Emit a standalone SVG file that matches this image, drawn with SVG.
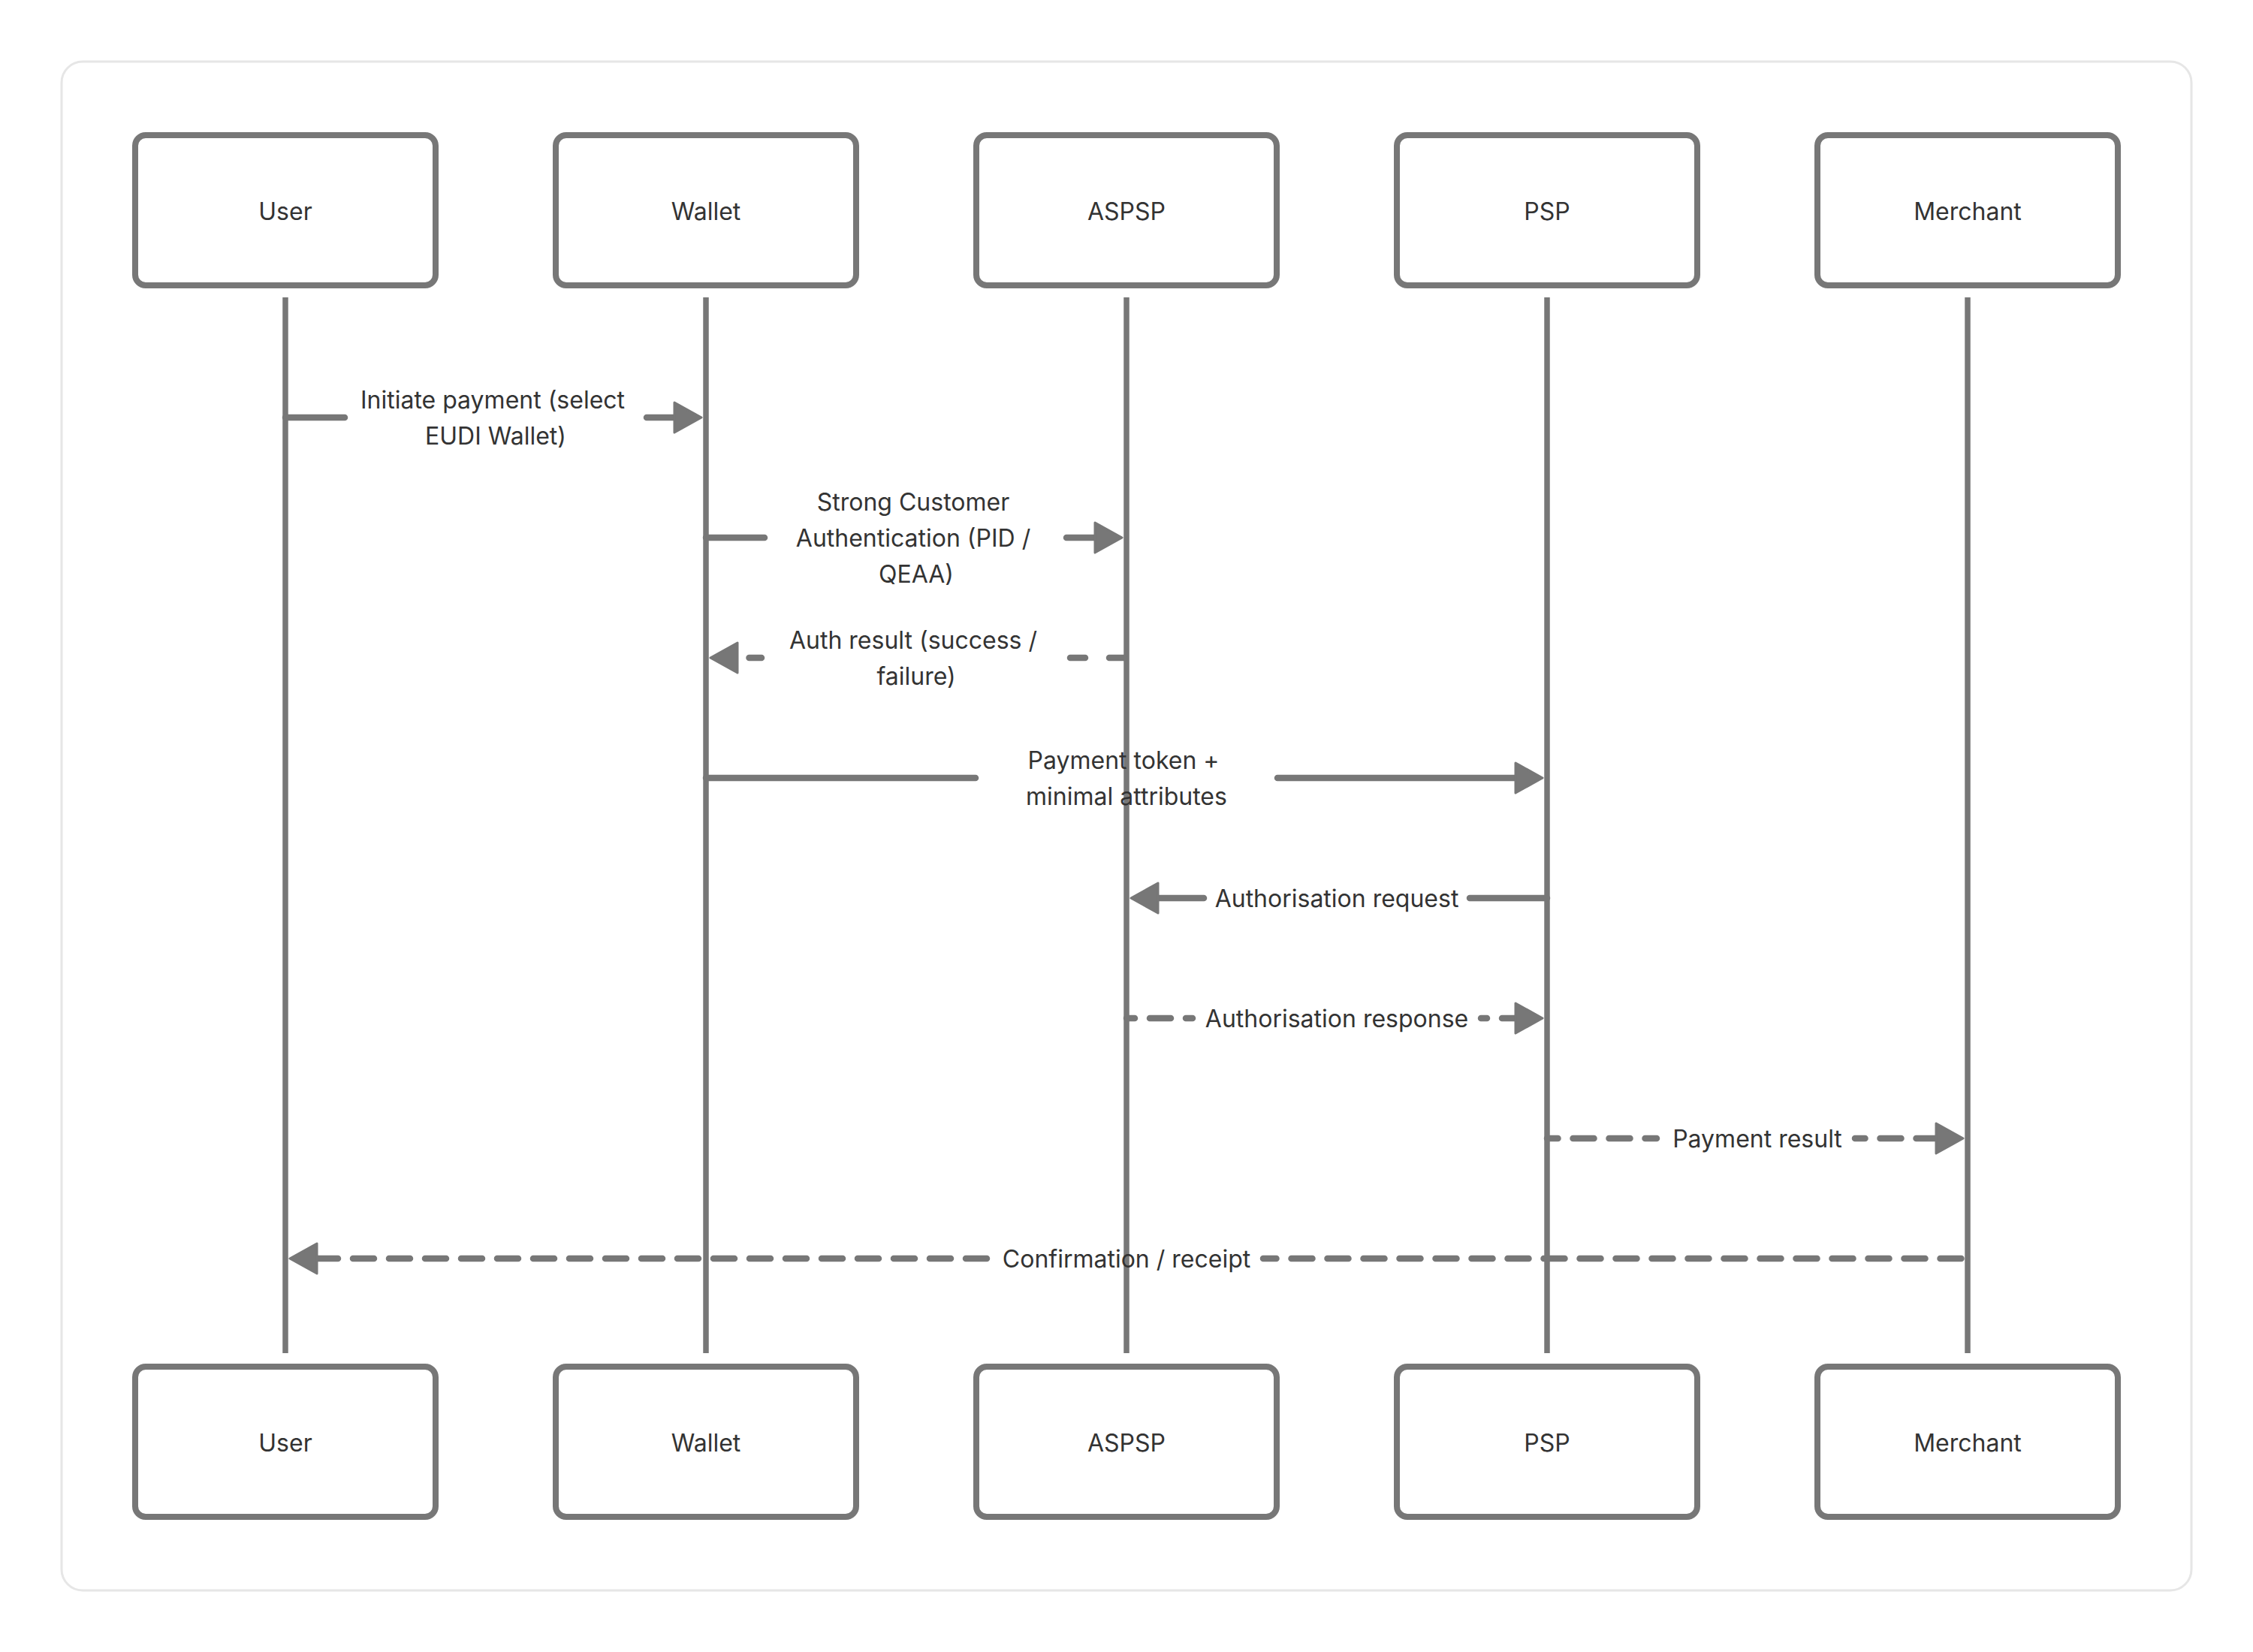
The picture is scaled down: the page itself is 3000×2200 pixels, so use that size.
<svg xmlns="http://www.w3.org/2000/svg" width="3000" height="2200" viewBox="0 0 3000 2200">
  <style>
    .frame { fill: #ffffff; stroke: #e6e6e6; stroke-width: 3; }
    .box { fill: #ffffff; stroke: #777777; stroke-width: 8; }
    .life { stroke: #777777; stroke-width: 7.5; fill: none; }
    .msg { stroke: #777777; stroke-width: 8.5; fill: none; stroke-linecap: round; }
    .dash { stroke-dasharray: 28 20; }
    .lbl { font-family: Inter, "Noto Sans", "Liberation Sans", sans-serif; font-size: 32px; fill: #333333; text-anchor: middle; }
  </style>
  <defs>
    <marker id="arr" markerUnits="userSpaceOnUse" viewBox="0 0 40 44" markerWidth="40" markerHeight="44" refX="2" refY="22" orient="auto-start-reverse">
      <path d="M2,2 L38,22 L2,42 Z" fill="#777777" stroke="#777777" stroke-width="3" stroke-linejoin="round"/>
    </marker>
  </defs>
  <rect x="0" y="0" width="3000" height="2200" fill="#ffffff"/>
  <rect class="frame" x="82" y="82" width="2836" height="2036" rx="28"/>

  <g id="lifelines">
    <line class="life" x1="380" y1="396" x2="380" y2="1802"/>
    <line class="life" x1="940" y1="396" x2="940" y2="1802"/>
    <line class="life" x1="1500" y1="396" x2="1500" y2="1802"/>
    <line class="life" x1="2060" y1="396" x2="2060" y2="1802"/>
    <line class="life" x1="2620" y1="396" x2="2620" y2="1802"/>
  </g>

  <g id="user-top"><rect class="box" x="180" y="180" width="400" height="200" rx="14"/><text class="lbl" x="380" y="293">User</text></g>
  <g id="wallet-top"><rect class="box" x="740" y="180" width="400" height="200" rx="14"/><text class="lbl" x="940" y="293">Wallet</text></g>
  <g id="aspsp-top"><rect class="box" x="1300" y="180" width="400" height="200" rx="14"/><text class="lbl" x="1500" y="293">ASPSP</text></g>
  <g id="psp-top"><rect class="box" x="1860" y="180" width="400" height="200" rx="14"/><text class="lbl" x="2060" y="293">PSP</text></g>
  <g id="merchant-top"><rect class="box" x="2420" y="180" width="400" height="200" rx="14"/><text class="lbl" x="2620" y="293">Merchant</text></g>

  <g id="user-bottom"><rect class="box" x="180" y="1820" width="400" height="200" rx="14"/><text class="lbl" x="380" y="1933">User</text></g>
  <g id="wallet-bottom"><rect class="box" x="740" y="1820" width="400" height="200" rx="14"/><text class="lbl" x="940" y="1933">Wallet</text></g>
  <g id="aspsp-bottom"><rect class="box" x="1300" y="1820" width="400" height="200" rx="14"/><text class="lbl" x="1500" y="1933">ASPSP</text></g>
  <g id="psp-bottom"><rect class="box" x="1860" y="1820" width="400" height="200" rx="14"/><text class="lbl" x="2060" y="1933">PSP</text></g>
  <g id="merchant-bottom"><rect class="box" x="2420" y="1820" width="400" height="200" rx="14"/><text class="lbl" x="2620" y="1933">Merchant</text></g>

  <g id="connectors">
    <!-- 1 User -> Wallet -->
    <path class="msg" d="M380,556 H459"/>
    <path class="msg" d="M861,556 H898" marker-end="url(#arr)"/>
    <text class="lbl" x="656" y="544">Initiate payment (select</text>
    <text class="lbl" x="660" y="592">EUDI Wallet)</text>

    <!-- 2 Wallet -> ASPSP -->
    <path class="msg" d="M940,716 H1018"/>
    <path class="msg" d="M1420,716 H1458" marker-end="url(#arr)"/>
    <text class="lbl" x="1216" y="680">Strong Customer</text>
    <text class="lbl" x="1216" y="728">Authentication (PID /</text>
    <text class="lbl" x="1220" y="776">QEAA)</text>

    <!-- 3 ASPSP -> Wallet (dashed) -->
    <path class="msg" d="M1497,876 H1425" stroke-dasharray="20 32"/>
    <path class="msg dash" d="M982,876 H1014" stroke-dashoffset="32.5" marker-start="url(#arr)"/>
    <text class="lbl" x="1216" y="864">Auth result (success /</text>
    <text class="lbl" x="1220" y="912">failure)</text>

    <!-- 4 Wallet -> PSP -->
    <path class="msg" d="M940,1036 H1299"/>
    <path class="msg" d="M1701,1036 H2018" marker-end="url(#arr)"/>
    <text class="lbl" x="1496" y="1024">Payment token +</text>
    <text class="lbl" x="1500" y="1072">minimal attributes</text>

    <!-- 5 PSP -> ASPSP -->
    <path class="msg" d="M2060,1196 H1957"/>
    <path class="msg" d="M1603,1196 H1542" marker-end="url(#arr)"/>
    <text class="lbl" x="1780" y="1208">Authorisation request</text>

    <!-- 6 ASPSP -> PSP (dashed) -->
    <path class="msg dash" d="M1500,1356 H1588" stroke-dashoffset="17"/>
    <path class="msg dash" d="M2018,1356 H1972" stroke-dashoffset="10" marker-start="url(#arr)"/>
    <text class="lbl" x="1780" y="1368">Authorisation response</text>

    <!-- 7 PSP -> Merchant (dashed) -->
    <path class="msg dash" d="M2060,1516 H2206" stroke-dashoffset="13.5"/>
    <path class="msg dash" d="M2578,1516 H2470" stroke-dashoffset="1.5" marker-start="url(#arr)"/>
    <text class="lbl" x="2340" y="1528">Payment result</text>

    <!-- 8 Merchant -> User (dashed) -->
    <path class="msg dash" d="M1682,1676 H2620" stroke-dashoffset="10.5"/>
    <path class="msg dash" d="M422,1676 H1320" marker-start="url(#arr)"/>
    <text class="lbl" x="1500" y="1688">Confirmation / receipt</text>
  </g>
</svg>
